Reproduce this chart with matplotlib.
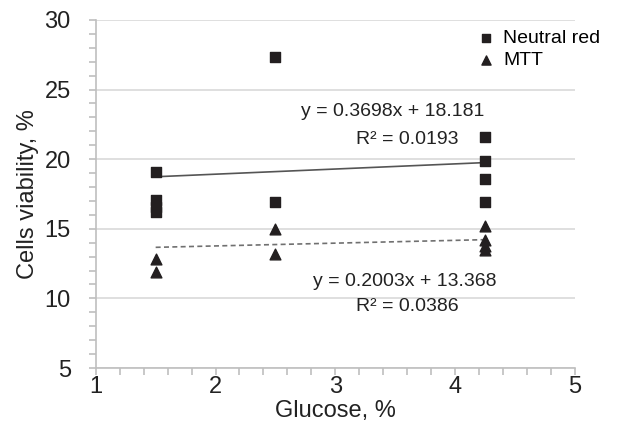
import matplotlib
matplotlib.use("Agg")
import matplotlib.pyplot as plt
from matplotlib.ticker import MultipleLocator

plt.rcParams['font.family'] = ['Liberation Sans', 'DejaVu Sans']

# Neutral red
nr_x = [1.5, 1.5, 1.5, 1.5, 2.5, 2.5, 4.25, 4.25, 4.25, 4.25]
nr_y = [19.1, 17.1, 16.6, 16.2, 27.3, 16.9, 21.6, 19.9, 18.6, 16.9]
# MTT
mtt_x = [1.5, 1.5, 2.5, 2.5, 4.25, 4.25, 4.25, 4.25]
mtt_y = [12.8, 11.9, 15.0, 13.2, 15.2, 14.2, 13.8, 13.5]

# trend lines (slope, intercept) as printed on the chart
nr_fit = (0.3698, 18.181)
mtt_fit = (0.2003, 13.368)
fit_x = [1.5, 4.25]

mk = '#231f20'
txt = '#222222'

fig = plt.figure(figsize=(6.18, 4.32), dpi=100)
ax = fig.add_axes([0.155, 0.148, 0.775, 0.806])

ax.plot(fit_x, [nr_fit[0] * x + nr_fit[1] for x in fit_x], color='#555555', lw=1.2, zorder=2)
ax.plot(fit_x, [mtt_fit[0] * x + mtt_fit[1] for x in fit_x], color='#707070', lw=1.2,
        ls=(0, (3, 2)), zorder=2)

ax.scatter(nr_x, nr_y, marker='s', s=50, color=mk, zorder=3, label='Neutral red')
ax.scatter(mtt_x, mtt_y, marker='^', s=60, color=mk, zorder=3, label='MTT')

ax.set_xlim(1, 5)
ax.set_ylim(5, 30)
ax.xaxis.set_major_locator(MultipleLocator(1))
ax.xaxis.set_minor_locator(MultipleLocator(0.2))
ax.yaxis.set_major_locator(MultipleLocator(5))
ax.yaxis.set_minor_locator(MultipleLocator(1))

ax.grid(axis='y', which='major', color='#d9d9d9', lw=1.2)
ax.set_axisbelow(True)
for s in ['top', 'right']:
    ax.spines[s].set_visible(False)
for s in ['left', 'bottom']:
    ax.spines[s].set_color('#bfbfbf')
    ax.spines[s].set_linewidth(1.2)
ax.tick_params(which='both', color='#bfbfbf', width=1.2, labelsize=17, labelcolor=txt)
ax.tick_params(which='major', length=5)
ax.tick_params(which='minor', length=5)
ax.tick_params(axis='y', which='both', pad=13)
ax.tick_params(axis='x', which='both', pad=1)

ax.set_xlabel('Glucose, %', fontsize=17, color=txt, labelpad=1)
ax.set_ylabel('Cells viability, %', fontsize=17, color=txt, labelpad=4)

ax.text(3.48, 23.4, 'y = 0.3698x + 18.181', fontsize=14, ha='center', va='center', color=txt)
ax.text(3.6, 21.4, 'R² = 0.0193', fontsize=14, ha='center', va='center', color=txt)
ax.text(3.58, 11.2, 'y = 0.2003x + 13.368', fontsize=14, ha='center', va='center', color=txt)
ax.text(3.6, 9.4, 'R² = 0.0386', fontsize=14, ha='center', va='center', color=txt)

ax.legend(loc='upper left', bbox_to_anchor=(0.77, 1.0), frameon=False, fontsize=14,
          handlelength=1.2, handletextpad=0.3, labelspacing=0.2, borderaxespad=0.1,
          markerscale=0.85)

fig.savefig('out.png', dpi=100)
